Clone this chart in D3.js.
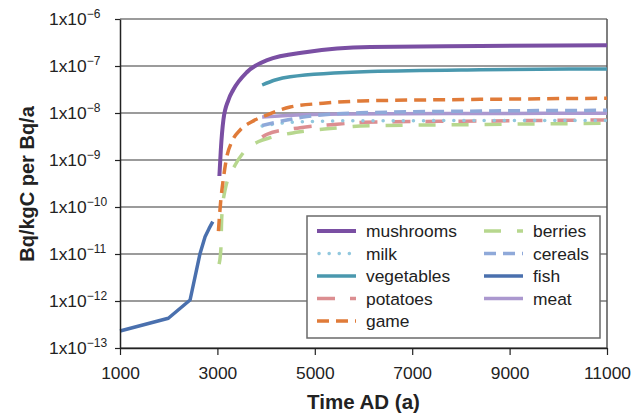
<!DOCTYPE html>
<html><head><meta charset="utf-8">
<script src="https://cdn.jsdelivr.net/npm/d3@7/dist/d3.min.js"></script>
<style>
body{margin:0;background:#fff;}
svg text{font-family:"Liberation Sans",Arial,Helvetica,sans-serif;fill:#222;}
</style></head>
<body><svg id="c" width="632" height="413"></svg>
<script>
// ---- data (Bq/kgC per Bq/a) ----
const xTicks = [1000, 3000, 5000, 7000, 9000, 11000];
const yExponents = [-6, -7, -8, -9, -10, -11, -12, -13];

const fishT = [1000, 1993, 2439, 2644, 2747, 2830, 2905];
const fishV = [2.30e-13, 4.3e-13, 1.05e-12, 1.03e-11, 2.33e-11, 3.5e-11, 4.9e-11];

const mushroomsT = [3041, 3070, 3123, 3226, 3323, 3610, 4022, 4844, 6139, 8400, 11000];
const mushroomsV = [4.57e-10, 1.63e-9, 7.1e-9, 1.89e-8, 3.08e-8, 7.45e-8, 1.34e-7, 1.99e-7, 2.54e-7, 2.67e-7, 2.75e-7];

const gameT = [3021, 3070, 3111, 3193, 3296, 3467, 3707, 4015, 4494, 5173, 5933, 8400, 11000];
const gameV = [3.08e-11, 1.41e-10, 3.24e-10, 1.17e-9, 2.45e-9, 4.35e-9, 6.53e-9, 9.06e-9, 1.34e-8, 1.61e-8, 1.80e-8, 1.95e-8, 2.06e-8];

const berriesT = [3035, 3070, 3090, 3158, 3364, 3528, 3837, 4118, 4700, 5378, 5933, 8400, 11000];
const berriesV = [6.1e-12, 1.22e-11, 6.2e-11, 2.3e-10, 7.8e-10, 1.41e-9, 2.45e-9, 3.04e-9, 4.0e-9, 4.72e-9, 5.28e-9, 5.69e-9, 6.04e-9];

const vegetablesT = [3919, 4186, 4494, 6139, 8400, 11000];
const vegetablesV = [3.94e-8, 5.04e-8, 5.92e-8, 7.64e-8, 8.34e-8, 8.63e-8];

const cerealsT = [3919, 4427, 4838, 5933, 8400, 11000];
const cerealsV = [5.42e-9, 7.1e-9, 8.43e-9, 1.01e-8, 1.10e-8, 1.14e-8];

const meatT = [3919, 4350, 5584, 8400, 11000];
const meatV = [8.22e-9, 8.77e-9, 9.53e-9, 9.76e-9, 9.86e-9];

const milkT = [3919, 4289, 4762, 5933, 11000];
const milkV = [5.28e-9, 6.04e-9, 6.53e-9, 6.85e-9, 6.92e-9];

const potatoesT = [3919, 4015, 4700, 5454, 5995, 8400, 11000];
const potatoesV = [3.08e-9, 3.52e-9, 4.86e-9, 5.75e-9, 6.34e-9, 6.76e-9, 7.10e-9];

// ---- series styling ----
const series = [
  {name:"fish", t:fishT, v:fishV, color:"#4a70ae", dash:null, w:3.5, linear:true},
  {name:"meat", t:meatT, v:meatV, color:"#ab98cf", dash:null, w:3.5},
  {name:"berries", t:berriesT, v:berriesV, color:"#b7d78e", dash:"17,16", w:3.5},
  {name:"potatoes", t:potatoesT, v:potatoesV, color:"#dc8e91", dash:"18,15", w:3.5},
  {name:"milk", t:milkT, v:milkV, color:"#92c8de", dash:"0.1,10", w:3.5, cap:"round"},
  {name:"cereals", t:cerealsT, v:cerealsV, color:"#8fa9d9", dash:"12,7", w:3.5},
  {name:"game", t:gameT, v:gameV, color:"#e07b39", dash:"12,7", w:3.5},
  {name:"vegetables", t:vegetablesT, v:vegetablesV, color:"#4a98ae", dash:null, w:3.5},
  {name:"mushrooms", t:mushroomsT, v:mushroomsV, color:"#7a4fa3", dash:null, w:4}
];
const legendCol1 = ["mushrooms","milk","vegetables","potatoes","game"];
const legendCol2 = ["berries","cereals","fish","meat"];

// ---- drawing ----
const svg = d3.select("#c");
const L = 120, R = 607, T = 19, B = 348;
const x = d3.scaleLinear().domain([1000, 11000]).range([L, R]);
const y = d3.scaleLog().domain([1e-13, 1e-6]).range([B, T]);

// gridlines
svg.append("g").selectAll("line").data(yExponents).join("line")
  .attr("x1", L).attr("x2", R)
  .attr("y1", d => y(Math.pow(10, d))).attr("y2", d => y(Math.pow(10, d)))
  .attr("stroke", "#7a7a7a").attr("stroke-width", 1.5);
// right border
svg.append("line").attr("x1", R).attr("x2", R).attr("y1", T).attr("y2", B)
  .attr("stroke", "#555").attr("stroke-width", 1.5);

// curves
const lineSmooth = d3.line().x(d => x(d[0])).y(d => y(d[1])).curve(d3.curveMonotoneX);
const lineStraight = d3.line().x(d => x(d[0])).y(d => y(d[1])).curve(d3.curveLinear);
series.forEach(s => {
  const pts = s.t.map((t, i) => [t, s.v[i]]);
  svg.append("path").attr("d", (s.linear ? lineStraight : lineSmooth)(pts)).attr("fill", "none")
    .attr("stroke", s.color).attr("stroke-width", s.w)
    .attr("stroke-dasharray", s.dash)
    .attr("stroke-linejoin", "round")
    .attr("stroke-linecap", s.cap || "butt");
});

// x axis
const xAxis = svg.append("g").attr("transform", `translate(0,${B})`)
  .call(d3.axisBottom(x).tickValues(xTicks).tickFormat(d3.format("d")).tickSize(7).tickSizeOuter(0));
xAxis.select(".domain").attr("stroke", "#222").attr("stroke-width", 1.5);
xAxis.selectAll(".tick line").attr("stroke", "#222").attr("stroke-width", 1.2);
xAxis.selectAll(".tick text").attr("font-size", "17.4px").attr("dy", null).attr("y", 31)
  .style("font-family", '"Liberation Sans",Arial,sans-serif').attr("fill", "#222");

// y axis
const yAxis = svg.append("g").attr("transform", `translate(${L},0)`)
  .call(d3.axisLeft(y).tickValues(yExponents.map(e => Math.pow(10, e))).tickFormat("").tickSize(5).tickSizeOuter(0));
yAxis.select(".domain").attr("stroke", "#222").attr("stroke-width", 1.5);
yAxis.selectAll(".tick line").attr("stroke", "#222").attr("stroke-width", 1.2);
const ylab = svg.append("g").selectAll("text").data(yExponents).join("text")
  .attr("x", 49).attr("y", d => y(Math.pow(10, d)) + 6)
  .attr("font-size", "17.4px");
ylab.append("tspan").text("1x10");
ylab.append("tspan").attr("font-size", "12px").attr("dy", -7).text(d => "\u2212" + Math.abs(d));

// axis titles
svg.append("text").attr("x", (L + R) / 2).attr("y", 409).attr("text-anchor", "middle")
  .attr("font-size", "20.5px").attr("font-weight", "bold").text("Time AD (a)");
svg.append("text").attr("transform", "translate(34,184) rotate(-90)").attr("text-anchor", "middle")
  .attr("font-size", "20px").attr("font-weight", "bold").text("Bq/kgC per Bq/a");

// legend
const lg = svg.append("g");
lg.append("rect").attr("x", 307).attr("y", 216).attr("width", 293).attr("height", 122)
  .attr("fill", "#fff").attr("stroke", "#6a6a6a").attr("stroke-width", 1.5);
const byName = Object.fromEntries(series.map(s => [s.name, s]));
function legendItem(name, col, row) {
  const s = byName[name];
  const x0 = col === 0 ? 317 : 484, tx = col === 0 ? 366 : 533;
  const yy = 231 + row * 22.5;
  lg.append("line").attr("x1", x0).attr("x2", x0 + (name === "milk" ? 36 : 39)).attr("y1", yy).attr("y2", yy)
    .attr("stroke", s.color).attr("stroke-width", s.w)
    .attr("stroke-dasharray", s.dash).attr("stroke-linecap", s.cap || "butt")
    .attr("transform", name === "milk" ? "translate(2,0)" : null);
  lg.append("text").attr("x", tx).attr("y", yy + 6).attr("font-size", "17.4px").text(name);
}
legendCol1.forEach((n, i) => legendItem(n, 0, i));
legendCol2.forEach((n, i) => legendItem(n, 1, i));
</script></body></html>
